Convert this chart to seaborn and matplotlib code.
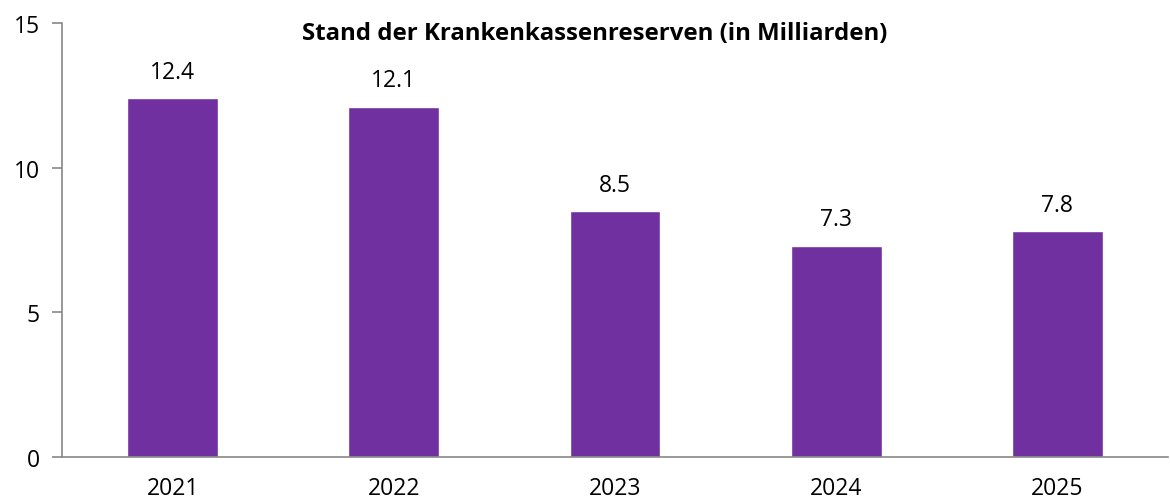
import numpy as np
import pandas as pd
import seaborn as sns
import matplotlib.pyplot as plt
from matplotlib.ticker import FixedLocator

# data
years = ['2021', '2022', '2023', '2024', '2025']
reserves = [12.4, 12.1, 8.5, 7.3, 7.8]
title = 'Stand der Krankenkassenreserven (in Milliarden)'

sns.set_style('white')
plt.rcParams['font.family'] = ['Open Sans', 'DejaVu Sans']
plt.rcParams['text.color'] = 'black'
plt.rcParams['xtick.labelcolor'] = 'black'
plt.rcParams['ytick.labelcolor'] = 'black'

df = pd.DataFrame({'Jahr': years, 'Reserve': reserves})

fig = plt.figure(figsize=(11.7, 5.02), dpi=100)
ax = fig.add_axes([62 / 1170, 1 - 458 / 502, (1168 - 62) / 1170, (458 - 24) / 502])

sns.barplot(data=df, x='Jahr', y='Reserve', color='#7030A0', saturation=1,
            width=0.41, ax=ax)

for i, v in enumerate(reserves):
    ax.text(i, v + 0.5, '{:.1f}'.format(v), ha='center', va='bottom', fontsize=16.5)

ax.set_xlim(-0.5, 4.5)
ax.set_ylim(0, 15)
ax.set_yticks([0, 5, 10, 15])
ax.set_xlabel('')
ax.set_ylabel('')

# tick marks between categories
ax.xaxis.set_minor_locator(FixedLocator(np.arange(-0.5, 5, 1)))
ax.tick_params(axis='x', which='major', length=0, pad=14, labelsize=16.5)
ax.tick_params(axis='x', which='minor', length=7, width=1.2, color='#888888', direction='out')
ax.tick_params(axis='y', length=7, width=1.2, color='#888888', direction='out',
               pad=9, labelsize=16.5, left=True)

for s in ['top', 'right']:
    ax.spines[s].set_visible(False)
for s in ['left', 'bottom']:
    ax.spines[s].set_color('#888888')
    ax.spines[s].set_linewidth(1.2)

fig.text(595 / 1170, 1 - 34 / 502, title, ha='center', va='center',
         fontsize=17.3, fontweight='bold')

plt.savefig('out.png', dpi=100)
